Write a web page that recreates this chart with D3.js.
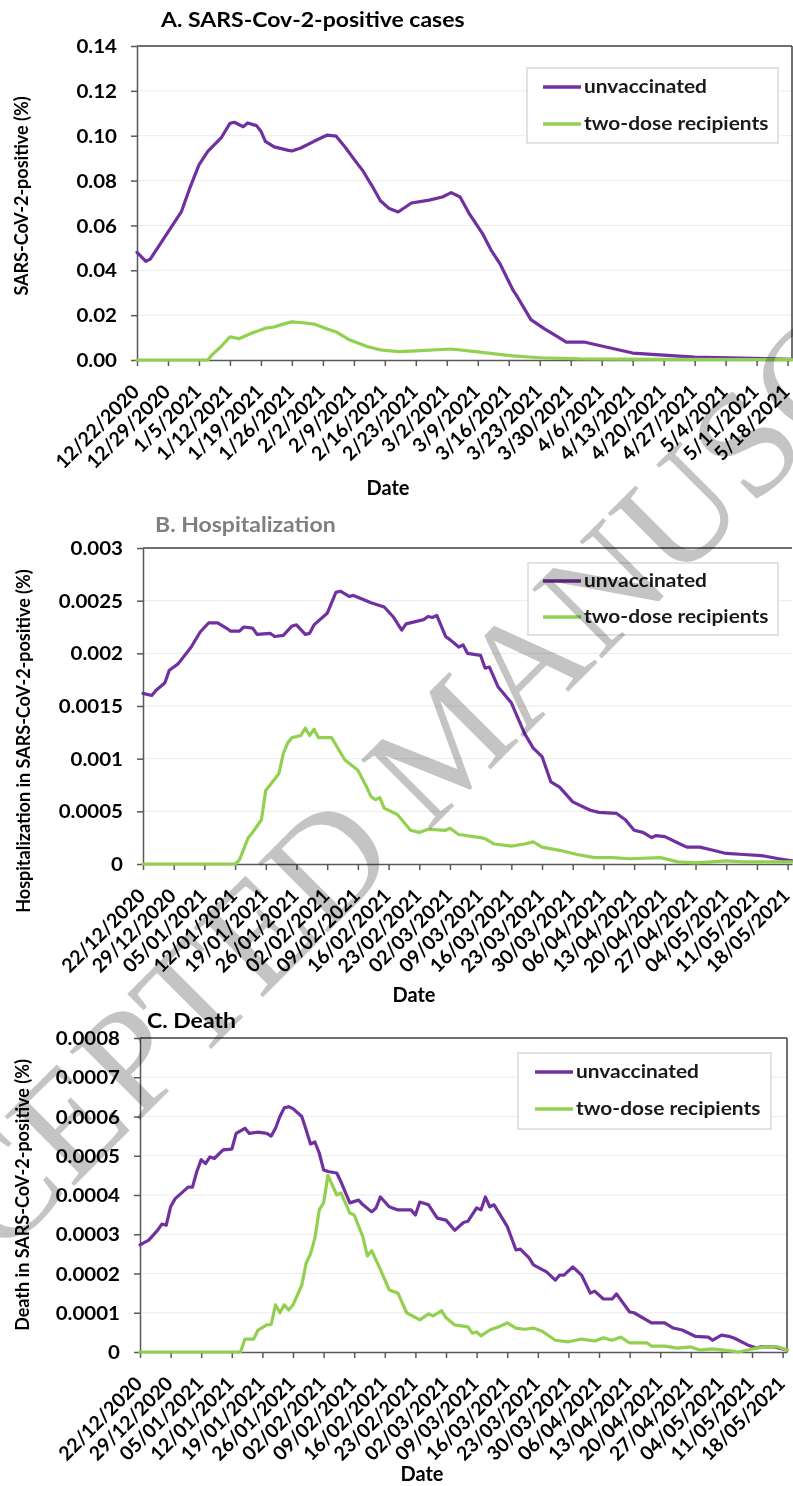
<!DOCTYPE html>
<html>
<head>
<meta charset="utf-8">
<script src="https://cdn.jsdelivr.net/npm/d3@7"></script>
<style>
  html, body { margin: 0; padding: 0; background: #fff; }
  svg { display: block; }
  text { font-family: Lato, "Open Sans", sans-serif; font-weight: 700; }
</style>
</head>
<body>
<svg id="fig" width="793" height="1486"></svg>
<script>
// ---------------- data ----------------
// Series are [days since 22 Dec 2020, value (%)]
const seriesNames = ["unvaccinated", "two-dose recipients"];

const casesUnvax = [[0,0.048],[2,0.044],[3,0.045],[5,0.051],[7,0.057],[10,0.066],[12,0.077],[14,0.087],[16,0.093],[19,0.099],[21,0.1055],[22,0.106],[24,0.104],[25,0.1057],[27,0.1045],[28,0.102],[29,0.0975],[31,0.095],[34,0.0936],[35,0.0932],[37,0.0945],[40,0.0975],[43,0.1003],[45,0.0998],[47,0.095],[50,0.087],[51,0.0845],[53,0.078],[55,0.071],[57,0.0675],[59,0.066],[62,0.070],[66,0.0713],[69,0.0727],[71,0.0746],[73,0.0727],[75,0.0655],[78,0.0566],[80,0.049],[82,0.043],[85,0.031],[86,0.028],[89,0.018],[92,0.014],[95,0.0104],[97,0.008],[101,0.008],[106,0.0058],[112,0.0031],[119,0.0022],[126,0.0013],[134,0.001],[148,0.0003]];
const casesVax = [[0,0],[16,0],[17,0.0024],[19,0.006],[21,0.0103],[23,0.0095],[26,0.012],[29,0.0142],[31,0.0147],[33,0.016],[35,0.017],[38,0.0165],[40,0.016],[43,0.0138],[45,0.0125],[48,0.009],[52,0.006],[55,0.0045],[59,0.0037],[62,0.004],[71,0.0049],[77,0.0036],[85,0.0018],[91,0.001],[100,0.0005],[120,0.0003],[148,0.0002]];

const hospUnvax = [[0,0.00162],[2,0.0016],[3,0.00165],[5,0.00172],[6,0.00184],[8,0.0019],[11,0.00206],[13,0.0022],[15,0.00229],[17,0.00229],[19,0.00224],[20,0.00221],[22,0.00221],[23,0.00225],[25,0.00224],[26,0.00218],[29,0.00219],[30,0.00216],[32,0.00217],[34,0.00226],[35,0.00227],[37,0.00218],[38,0.00219],[39,0.00227],[42,0.00238],[43,0.00248],[44,0.00258],[45,0.00259],[47,0.00254],[48,0.00255],[52,0.00248],[55,0.00244],[57,0.00235],[59,0.00222],[60,0.00228],[64,0.00232],[65,0.00235],[66,0.00234],[67,0.00236],[69,0.00216],[70,0.00213],[72,0.00206],[73,0.00208],[74,0.002],[77,0.00198],[78,0.00186],[79,0.00187],[81,0.00168],[84,0.00153],[87,0.00124],[89,0.0011],[91,0.00102],[93,0.00078],[95,0.00073],[98,0.00059],[102,0.00051],[104,0.00049],[108,0.00048],[110,0.00042],[112,0.00032],[114,0.0003],[116,0.00025],[117,0.00027],[119,0.00026],[122,0.0002],[124,0.00016],[127,0.00016],[130,0.00013],[133,0.0001],[137,0.00009],[141,0.00008],[145,0.00005],[148,0.00003]];
const hospVax = [[0,0],[21,0],[22,0.00004],[24,0.00025],[25,0.0003],[27,0.00042],[28,0.0007],[29,0.00075],[31,0.00086],[32,0.00105],[33,0.00115],[34,0.0012],[36,0.00122],[37,0.00129],[38,0.00122],[39,0.00128],[40,0.0012],[43,0.0012],[44,0.00113],[46,0.00099],[49,0.00089],[51,0.00073],[52,0.00064],[53,0.00061],[54,0.00063],[55,0.00053],[58,0.00047],[61,0.00032],[63,0.0003],[65,0.00033],[69,0.00032],[70,0.00034],[72,0.00028],[77,0.00025],[78,0.00024],[80,0.00019],[84,0.00017],[87,0.00019],[89,0.00021],[91,0.00016],[95,0.00013],[99,0.00009],[103,0.00006],[107,0.00006],[111,0.00005],[118,0.00006],[122,0.00002],[126,0.00001],[133,0.00003],[137,0.00002],[148,0.00002]];

const deathUnvax = [[0,0.000273],[2,0.000285],[4,0.00031],[5,0.000326],[6,0.000323],[7,0.00037],[8,0.00039],[11,0.00042],[12,0.00042],[13,0.00046],[14,0.00049],[15,0.00048],[16,0.000497],[17,0.000493],[19,0.000515],[21,0.000517],[22,0.000557],[24,0.00057],[25,0.000557],[27,0.00056],[29,0.000557],[30,0.00055],[31,0.00057],[32,0.0006],[33,0.000622],[34,0.000625],[35,0.00062],[37,0.0006],[38,0.000566],[39,0.00053],[40,0.000535],[41,0.000507],[42,0.000464],[43,0.00046],[45,0.000456],[46,0.000433],[48,0.00038],[50,0.000387],[51,0.000375],[53,0.000357],[54,0.000367],[55,0.000395],[57,0.00037],[59,0.000362],[62,0.000362],[63,0.000349],[64,0.000382],[66,0.000375],[68,0.000341],[70,0.000336],[72,0.00031],[74,0.00033],[75,0.000333],[77,0.000367],[78,0.000362],[79,0.000395],[80,0.00037],[81,0.000375],[84,0.00032],[86,0.00026],[87,0.000262],[89,0.00024],[90,0.000222],[93,0.000204],[95,0.000183],[96,0.000196],[97,0.000196],[99,0.000217],[101,0.000196],[103,0.00015],[104,0.000155],[106,0.000135],[108,0.000135],[109,0.000148],[112,0.000102],[113,0.0001],[117,0.000074],[120,0.000074],[122,0.000061],[124,0.000056],[127,0.00004],[130,0.000038],[131,0.00003],[133,0.000043],[135,0.000039],[136,0.000035],[139,0.000018],[141,0.00001],[142,0.000013],[145,0.000013],[148,0.000005]];
const deathVax = [[0,0],[23,0],[24,0.000033],[26,0.000033],[27,0.000056],[29,0.000069],[30,0.00007],[31,0.00012],[32,0.0001],[33,0.00012],[34,0.000107],[35,0.00012],[37,0.00017],[38,0.000226],[39,0.00025],[40,0.00029],[41,0.000362],[42,0.00038],[43,0.00045],[45,0.0004],[46,0.000405],[48,0.000354],[49,0.000349],[51,0.000293],[52,0.000245],[53,0.000258],[55,0.00021],[57,0.000158],[59,0.00015],[61,0.0001],[64,0.000082],[66,0.000097],[67,0.000092],[69,0.000105],[70,0.000087],[72,0.000069],[75,0.000064],[76,0.000048],[77,0.000051],[78,0.000041],[80,0.000056],[82,0.000064],[84,0.000074],[86,0.000061],[88,0.000058],[90,0.000061],[92,0.000053],[95,0.00003],[98,0.000026],[101,0.000033],[104,0.000028],[106,0.000036],[108,0.00003],[110,0.000038],[112,0.000023],[116,0.000023],[117,0.000015],[120,0.000015],[123,0.00001],[126,0.000013],[128,0.000005],[131,0.000008],[135,0.000003],[137,0],[139,0.000005],[141,0.00001],[143,0.000013],[146,0.000013],[148,0.000005]];

// Weekly tick labels (US style for panel A, day-first for B and C)
const weekLabelsUS = ["12/22/2020","12/29/2020","1/5/2021","1/12/2021","1/19/2021","1/26/2021","2/2/2021","2/9/2021","2/16/2021","2/23/2021","3/2/2021","3/9/2021","3/16/2021","3/23/2021","3/30/2021","4/6/2021","4/13/2021","4/20/2021","4/27/2021","5/4/2021","5/11/2021","5/18/2021"];
const weekLabelsEU = ["22/12/2020","29/12/2020","05/01/2021","12/01/2021","19/01/2021","26/01/2021","02/02/2021","09/02/2021","16/02/2021","23/02/2021","02/03/2021","09/03/2021","16/03/2021","23/03/2021","30/03/2021","06/04/2021","13/04/2021","20/04/2021","27/04/2021","04/05/2021","11/05/2021","18/05/2021"];

const yTicksCases = [0, 0.02, 0.04, 0.06, 0.08, 0.10, 0.12, 0.14];
const yTicksHosp  = [0, 0.0005, 0.001, 0.0015, 0.002, 0.0025, 0.003];
const yTicksDeath = [0, 0.0001, 0.0002, 0.0003, 0.0004, 0.0005, 0.0006, 0.0007, 0.0008];

// ---------------- styling / layout ----------------
const COLORS = ["#7030A0", "#92D050"];
const AXIS = "#595959";
const GRID = "#ebebeb";
const startDay = new Date(2020, 11, 22);
const endDay = new Date(2021, 4, 19);

const panels = [
  {
    title: "A. SARS-Cov-2-positive cases", titleColor: "#000", titleX: 161, titleY: 27,
    ylabel: "SARS-CoV-2-positive (%)", ylabelX: 22, ylabelY: 196,
    series: [casesUnvax, casesVax], yTicks: yTicksCases, yFmt: d3.format(".2f"),
    labels: weekLabelsUS, parse: d3.timeParse("%m/%d/%Y"),
    box: {l: 137, t: 46, r: 792, b: 360}, rightBorder: true,
    legend: {x: 527, y: 68, w: 251, h: 75, l1: 87, l2: 124, lx: 543},
    dateX: 388, dateY: 495
  },
  {
    title: "B. Hospitalization", titleColor: "#7f7f7f", titleX: 155, titleY: 532,
    ylabel: "Hospitalization in SARS-CoV-2-positive (%)", ylabelX: 24, ylabelY: 741,
    series: [hospUnvax, hospVax], yTicks: yTicksHosp, yFmt: d => String(d),
    labels: weekLabelsEU, parse: d3.timeParse("%d/%m/%Y"),
    box: {l: 143, t: 548, r: 792, b: 864}, rightBorder: false,
    legend: {x: 528, y: 563, w: 250, h: 72, l1: 581, l2: 617, lx: 543},
    dateX: 414, dateY: 1002
  },
  {
    title: "C. Death", titleColor: "#000", titleX: 147, titleY: 1028,
    ylabel: "Death in SARS-CoV-2-positive (%)", ylabelX: 23, ylabelY: 1195,
    series: [deathUnvax, deathVax], yTicks: yTicksDeath, yFmt: d => String(d),
    labels: weekLabelsEU, parse: d3.timeParse("%d/%m/%Y"),
    box: {l: 140, t: 1038, r: 787, b: 1352}, rightBorder: true,
    legend: {x: 518, y: 1053, w: 253, h: 76, l1: 1072, l2: 1109, lx: 535},
    dateX: 422, dateY: 1481
  }
];

const svg = d3.select("#fig");

panels.forEach(p => {
  const g = svg.append("g");
  const {l, t, r, b} = p.box;
  const x = d3.scaleTime().domain([startDay, endDay]).range([l, r]);
  const y = d3.scaleLinear().domain([0, d3.max(p.yTicks)]).range([b, t]);

  // gridlines
  g.append("g").selectAll("line").data(p.yTicks.filter(v => v > 0 && v < d3.max(p.yTicks)))
    .join("line")
    .attr("x1", l).attr("x2", r)
    .attr("y1", d => y(d)).attr("y2", d => y(d))
    .attr("stroke", GRID).attr("stroke-width", 1);

  // plot frame (top and right)
  g.append("line").attr("x1", l).attr("x2", r).attr("y1", t).attr("y2", t)
    .attr("stroke", "#404040").attr("stroke-width", 1.5);
  if (p.rightBorder) {
    g.append("line").attr("x1", r).attr("x2", r).attr("y1", t).attr("y2", b)
      .attr("stroke", "#404040").attr("stroke-width", 1.5);
  }

  // y axis
  const yAxis = g.append("g").attr("transform", `translate(${l},0)`)
    .call(d3.axisLeft(y).tickValues(p.yTicks).tickFormat(p.yFmt).tickSize(6).tickSizeOuter(0));
  yAxis.select(".domain").attr("stroke", AXIS).attr("stroke-width", 1.5);
  yAxis.selectAll(".tick line").attr("stroke", AXIS).attr("stroke-width", 1.5);
  yAxis.selectAll(".tick text")
    .attr("fill", "#000").attr("x", 0).attr("dy", "0.35em")
    .attr("transform", "translate(-20,0) scale(1.08,1)")
    .style("font-size", "19px").style("font-family", "Lato").style("font-weight", 700);

  // x axis
  const tickDates = p.labels.map(p.parse);
  const xAxis = g.append("g").attr("transform", `translate(0,${b})`)
    .call(d3.axisBottom(x).tickValues(tickDates).tickFormat((d, i) => p.labels[i]).tickSize(6).tickSizeOuter(0));
  xAxis.select(".domain").attr("stroke", AXIS).attr("stroke-width", 1.5);
  xAxis.selectAll(".tick line").attr("stroke", AXIS).attr("stroke-width", 1.5);
  xAxis.selectAll(".tick text")
    .attr("fill", "#000").attr("x", 0).attr("y", 0).attr("dy", 0)
    .attr("text-anchor", "end")
    .attr("transform", "translate(3,33) rotate(-45)")
    .style("font-size", "19.5px").style("font-family", "Lato").style("font-weight", 700);

  // series lines
  const line = d3.line()
    .x(d => x(d3.timeDay.offset(startDay, d[0])))
    .y(d => y(d[1]));
  p.series.forEach((s, i) => {
    g.append("path").datum(s).attr("d", line)
      .attr("fill", "none").attr("stroke", COLORS[i]).attr("stroke-width", 3.2)
      .attr("stroke-linejoin", "round").attr("stroke-linecap", "round");
  });

  // titles
  g.append("text").attr("transform", `translate(${p.titleX},${p.titleY}) scale(1.15,1)`)
    .text(p.title).attr("fill", p.titleColor).style("font-size", "20px");
  g.append("text").attr("transform", `translate(${p.ylabelX},${p.ylabelY}) rotate(-90)`)
    .attr("text-anchor", "middle").attr("dy", "0.35em").text(p.ylabel)
    .attr("fill", "#000").style("font-size", "18px");
  g.append("text").attr("x", p.dateX).attr("y", p.dateY).attr("text-anchor", "middle")
    .text("Date").attr("fill", "#000").style("font-size", "20px");

  // legend
  const L = p.legend;
  const lg = g.append("g");
  lg.append("rect").attr("x", L.x).attr("y", L.y).attr("width", L.w).attr("height", L.h)
    .attr("fill", "#fff").attr("stroke", "#d9d9d9").attr("stroke-width", 1.5);
  [L.l1, L.l2].forEach((ly, i) => {
    lg.append("line").attr("x1", L.lx).attr("x2", L.lx + 38).attr("y1", ly).attr("y2", ly)
      .attr("stroke", COLORS[i]).attr("stroke-width", 3.5);
    lg.append("text").attr("transform", `translate(${L.lx + 41},${ly + 6}) scale(1.1,1)`)
      .text(seriesNames[i]).attr("fill", "#1a1a1a").style("font-size", "19px");
  });
});

// diagonal watermark across the page
svg.append("text")
  .attr("transform", "translate(-147,1407) rotate(-45)")
  .text("ACCEPTED MANUSCRIPT")
  .attr("fill", "#c4c4c4")
  .style("font-family", "'Liberation Serif', 'DejaVu Serif', serif")
  .style("font-weight", 400)
  .style("font-size", "150px")
  .style("mix-blend-mode", "multiply");
</script>
</body>
</html>
